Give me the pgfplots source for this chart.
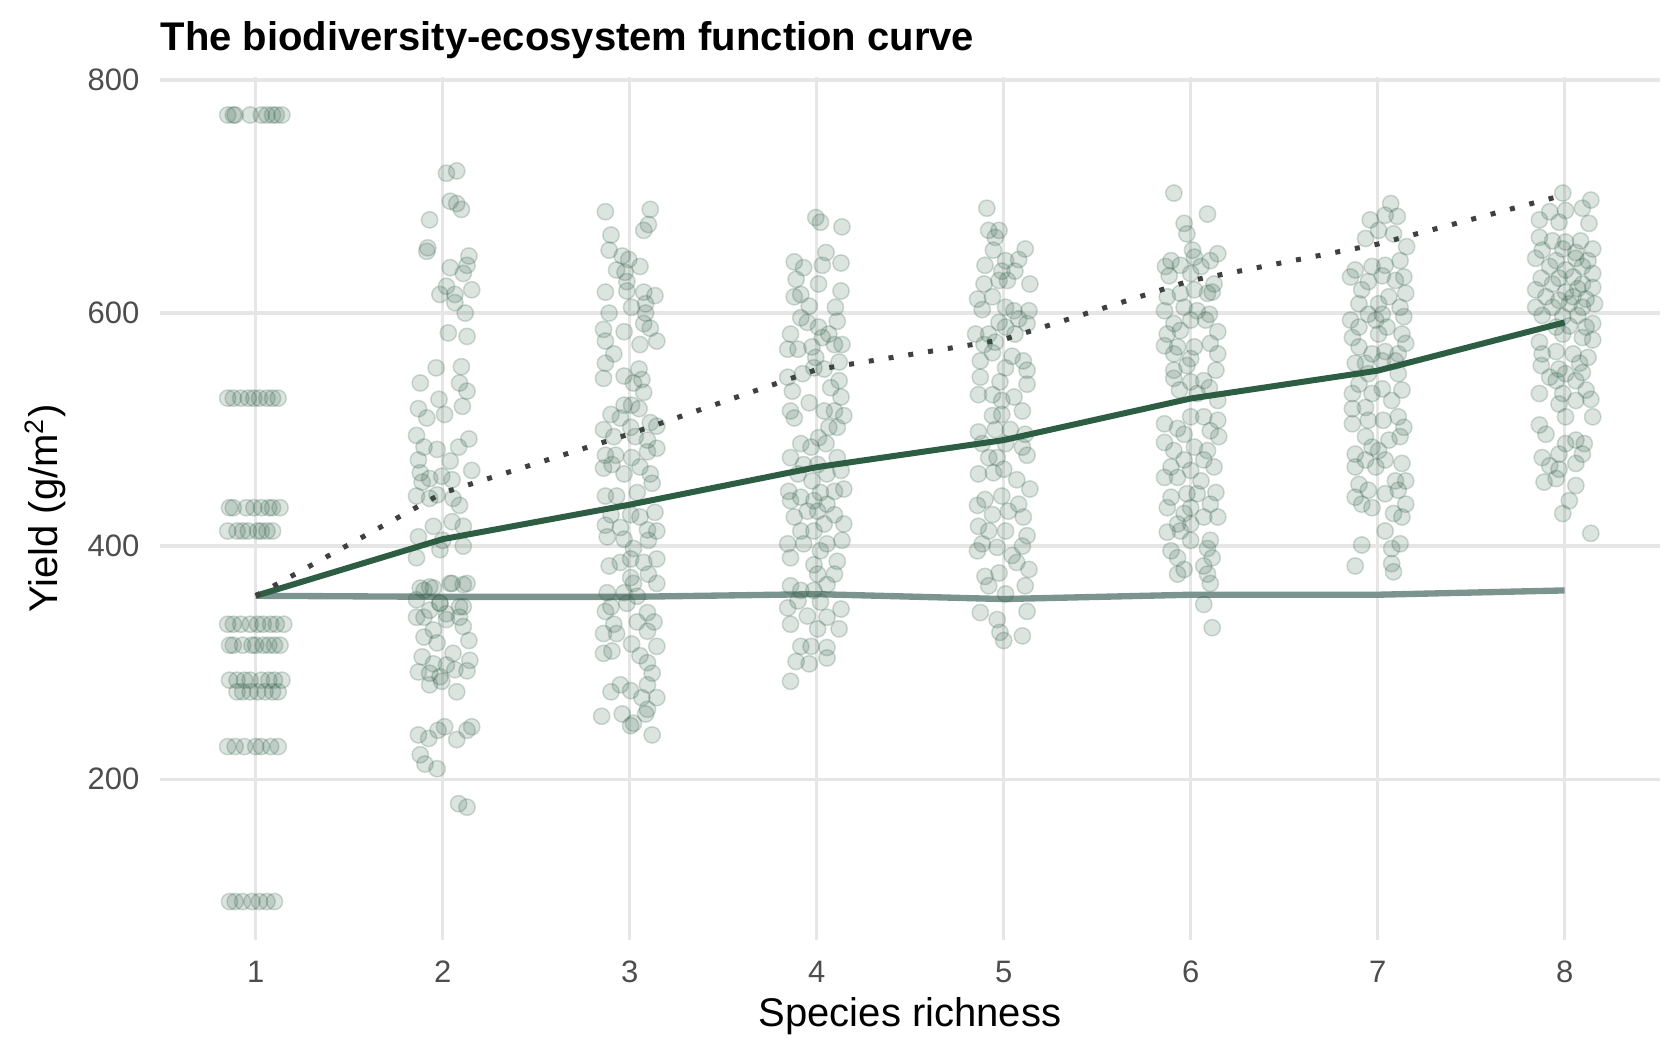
\documentclass[border=0pt]{standalone}
\usepackage{fontspec}
\setmainfont{Liberation Sans}
\usepackage{pgfplots}
\pgfplotsset{compat=1.18}
\definecolor{ptcol}{HTML}{2F5E46}
\definecolor{meancol}{HTML}{2D5E44}
\definecolor{graycol}{HTML}{7C948E}
\definecolor{dotcol}{HTML}{404040}
\definecolor{gridcol}{HTML}{E6E6E6}
\definecolor{tickcol}{HTML}{4D4D4D}
\begin{document}
\begin{tikzpicture}
\useasboundingbox (-48pt,-34.8pt) rectangle (456pt,282pt);
\begin{axis}[
  name=ax, at={(0pt,0pt)}, anchor=south west,
  scale only axis, width=450pt, height=258.9pt,
  xmin=0.488, xmax=8.51, ymin=62, ymax=802.6,
  axis line style={draw=none},
  major tick length=0pt,
  xmajorgrids, ymajorgrids,
  grid style={draw=gridcol, line width=1pt},
  xtick={1,2,3,4,5,6,7,8},
  ytick={200,400,600,800},
  /pgf/number format/assume math mode=true,
  tick label style={font=\fontsize{9.3}{11}\selectfont, text=tickcol},
  yticklabel style={anchor=east, inner sep=0pt, xshift=-6pt},
  xticklabel style={anchor=north, inner sep=0pt, yshift=-6.2pt},
  clip=false,
]
% jittered observations
\addplot[only marks, mark=*, mark size=2.45pt,
  mark options={draw=ptcol, fill=ptcol, fill opacity=0.17, draw opacity=0.22, line width=0.45pt}]
coordinates {
% richness 1 (monocultures)
(0.85,770)(0.88,770)(0.89,770)(0.97,770)(1.03,770)(1.06,770)(1.09,770)(1.11,770)(1.14,770)
(0.85,527)(0.88,527)(0.92,527)(0.96,527)(0.99,527)(1.02,527)(1.06,527)(1.09,527)(1.12,527)
(0.86,433)(0.88,433)(0.95,433)(0.99,433)(1.03,433)(1.07,433)(1.09,433)(1.13,433)
(0.85,413)(0.90,413)(0.93,413)(0.96,413)(1.01,413)(1.03,413)(1.06,413)(1.09,413)
(0.85,333)(0.88,333)(0.92,333)(0.97,333)(1.01,333)(1.04,333)(1.08,333)(1.11,333)(1.15,333)
(0.86,315)(0.88,315)(0.93,315)(0.98,315)(1.00,315)(1.04,315)(1.07,315)(1.10,315)(1.13,315)
(0.86,285)(0.90,285)(0.94,285)(0.97,285)(1.03,285)(1.07,285)(1.10,285)(1.14,285)
(0.90,275)(0.93,275)(0.97,275)(1.01,275)(1.05,275)(1.09,275)(1.12,275)
(0.85,228)(0.89,228)(0.94,228)(1.00,228)(1.03,228)(1.08,228)(1.12,228)
(0.86,95)(0.89,95)(0.93,95)(0.98,95)(1.02,95)(1.06,95)(1.10,95)
% richness 2
(2.02,720)(2.075,722)(2.04,696)(2.075,694)(2.10,689)(1.93,680)(1.92,656)(1.915,653)(2.14,649)(2.13,641)
(2.04,639)(2.11,634)(2.02,623)(1.985,616)(2.065,616)(2.155,620)(2.065,609)(2.12,600)(2.03,583)(2.13,580)
(1.965,553)(1.88,540)(2.10,554)(2.09,540)(2.13,533)(1.98,526)(2.105,520)(2.01,513)(1.87,518)(1.915,510)
(1.86,495)(1.90,485)(2.14,492)(2.085,485)(1.87,474)(1.97,483)(2.04,473)(2.155,465)(1.88,463)(1.93,458)
(1.995,460)(2.05,457)(1.89,455)(1.97,444)(1.86,443)(1.93,441)(2.055,441)(2.09,435)(1.95,417)(2.11,417)
(2.05,421)(1.87,408)(2.00,405)(2.11,400)(1.86,390)(1.985,397)(1.93,365)(2.05,368)(2.13,368)(1.88,364)
(1.985,351)(2.09,348)(1.90,339)(2.02,337)(1.95,328)(2.11,331)
(1.86,339)(1.93,345)(2.02,342)(2.09,339)(1.90,322)(1.97,317)(2.055,308)(2.14,319)(1.89,305)(1.95,299)
(2.02,298)(2.145,302)(1.87,292)(1.93,291)(1.985,288)(2.065,294)(2.13,293)(1.93,281)(1.995,284)(2.075,275)
(1.87,238)(1.925,235)(1.975,242)(2.01,245)(2.075,234)(2.13,242)(2.155,245)(1.88,221)(1.905,213)(1.97,209)
(2.085,179)(2.13,176)(1.90,362)(1.95,364)(2.04,368)(2.11,367)(1.86,354)(1.985,351)(2.11,348)
% richness 3
(2.87,687)(3.11,689)(2.90,667)(3.075,671)(3.10,676)(2.89,654)(2.96,649)(2.995,646)(2.93,637)(2.975,635)
(3.055,640)(2.985,627)(2.985,619)(2.87,618)(3.075,618)(3.135,615)(2.89,600)(3.01,605)(3.085,608)(3.085,600)
(3.075,591)(2.86,586)(2.97,584)(3.11,587)(2.87,576)(3.055,573)(3.145,576)(2.915,565)(2.87,557)(2.86,544)
(2.97,546)(3.05,552)(3.02,540)(3.065,543)(3.075,532)(2.97,521)(3.01,521)(2.90,513)(3.05,518)(2.95,510)
(2.86,500)(3.005,502)(3.11,506)(3.145,503)(2.915,494)(3.03,494)(3.095,491)(2.87,478)(2.925,478)(3.01,476)
(3.095,481)(3.145,484)(2.86,467)(2.905,470)(2.97,462)(3.055,468)(3.11,462)(2.87,443)(2.93,443)(3.04,446)
(3.12,454)(2.90,427)(3.005,427)(3.055,425)(3.135,429)(2.87,418)(2.95,416)(3.095,414)(3.145,413)(2.88,408)
(2.97,406)(3.02,398)(3.10,405)(2.89,383)(2.95,386)(3.005,389)(3.075,386)(3.145,389)(3.005,373)(3.10,376)
(3.02,368)(3.145,368)(2.88,360)(2.97,360)(3.04,357)(2.90,348)(2.985,351)(3.095,343)(2.87,344)(2.915,333)
(3.04,335)(3.13,335)(2.86,325)(2.93,325)(3.095,327)(3.01,316)(3.145,314)(2.905,310)(2.86,308)(3.055,306)
(3.095,300)(3.12,291)(2.90,275)(2.95,281)(3.005,276)(3.095,281)(3.065,270)(3.145,270)(2.85,254)(2.96,256)
(3.095,260)(3.085,256)(3.005,246)(3.02,248)(3.12,238)
% richness 4
(3.995,682)(4.02,678)(4.135,674)(3.88,644)(3.93,639)(4.05,652)(4.03,641)(4.13,643)(3.89,629)(4.01,625)
(4.13,619)(3.88,614)(3.915,616)(3.96,606)(4.10,605)(4.11,593)(3.915,596)(3.95,592)(4.01,588)(3.86,582)
(4.065,582)(4.135,573)(3.845,569)(3.90,569)(3.975,571)(4.03,579)(4.095,573)(3.995,562)(3.985,553)(4.12,558)
(3.845,545)(3.925,548)(4.04,552)(3.87,533)(4.12,542)(4.075,536)(4.13,528)(3.96,523)(3.86,516)(3.88,510)
(4.04,516)(4.095,516)(4.145,512)(4.11,502)(4.065,502)(4.01,493)(3.915,488)(3.97,485)(4.05,488)(3.86,476)
(4.11,476)(3.93,470)(4.005,470)(3.90,462)(4.055,462)(4.13,465)(3.975,456)(3.85,447)(4.095,447)(4.02,446)
(3.915,442)(3.985,439)(4.145,449)(3.86,439)(4.055,436)(3.95,430)(4.005,430)(4.095,427)(3.88,425)(4.04,419)
(4.145,419)(3.915,413)(3.985,413)(3.845,402)(3.93,402)(4.055,402)(4.135,405)(4.02,396)(3.86,390)(4.11,387)
(3.985,384)(4.005,376)(4.095,376)(4.055,367)(3.86,366)(3.915,362)(3.985,362)(3.845,347)(3.90,353)(4.02,352)
(4.13,346)(3.95,340)(4.055,339)(3.86,333)(4.12,329)(4.005,329)(3.915,314)(3.97,314)(4.055,313)(3.89,301)
(3.96,299)(4.055,304)(3.86,284)
% richness 5
(4.91,690)(4.92,671)(4.975,671)(4.955,665)(4.945,654)(4.90,641)(5.01,645)(5.08,646)(5.115,655)(4.99,636)
(5.06,636)(4.895,625)(4.975,628)(5.02,628)(5.14,625)(4.86,612)(4.94,614)(4.885,603)(5.01,605)(5.055,602)
(5.135,602)(4.975,592)(5.08,595)(5.125,591)(4.85,582)(4.92,582)(5.01,588)(4.895,573)(4.955,575)(5.06,582)
(4.875,559)(4.94,566)(5.045,563)(5.105,559)(5.01,553)(5.125,551)(4.875,545)(4.98,541)(5.125,539)(4.865,530)
(4.94,530)(5.055,528)(4.99,525)(5.10,516)(4.94,512)(4.99,513)(4.865,498)(4.955,500)(5.035,500)(5.115,496)
(4.885,488)(5.01,488)(5.10,485)(4.92,476)(4.965,476)(5.125,478)(4.865,462)(4.945,463)(5.00,466)(5.07,457)
(5.14,449)(4.90,440)(4.99,443)(5.08,436)(4.86,435)(4.94,427)(5.025,430)(5.105,425)(4.865,417)(4.92,413)
(5.01,413)(5.125,409)(4.885,402)(4.965,399)(5.045,392)(5.10,400)(4.86,396)(5.07,386)(4.90,374)(4.975,377)
(5.135,380)(4.92,366)(5.01,359)(5.115,366)(4.875,343)(4.965,337)(5.125,344)(4.98,326)(5.10,323)(5.00,319)
% richness 6
(5.91,703)(6.09,685)(5.965,677)(5.98,668)(6.01,654)(5.895,645)(6.02,648)(6.145,651)(5.865,640)(5.945,641)
(6.055,640)(6.105,645)(5.885,632)(6.00,634)(6.125,625)(6.02,620)(5.875,614)(5.945,617)(6.09,617)(6.115,618)
(5.86,602)(5.965,605)(6.035,602)(6.10,599)(5.91,591)(6.00,594)(6.08,594)(5.875,582)(5.945,585)(6.145,584)
(5.86,572)(5.93,571)(6.02,571)(6.105,574)(6.00,561)(5.91,565)(6.145,565)(5.91,551)(6.135,551)(5.98,555)
(5.91,544)(6.00,541)(6.07,542)(6.10,536)(5.94,534)(6.035,531)(6.145,525)(5.86,505)(5.93,501)(6.00,511)
(6.07,511)(6.145,508)(5.965,496)(6.105,499)(5.86,489)(6.15,494)(5.91,482)(6.02,485)(6.09,482)(5.965,474)
(6.07,474)(5.895,468)(6.00,465)(5.86,459)(5.93,459)(6.125,468)(6.055,456)(5.98,445)(5.895,442)(6.135,446)
(6.035,445)(5.875,433)(6.00,433)(6.105,436)(5.965,428)(6.07,425)(5.93,419)(6.145,425)(6.00,419)(5.875,412)
(5.945,413)(6.105,405)(6.00,405)(5.895,396)(6.09,398)(5.93,390)(6.07,383)(6.115,390)(5.93,376)(5.965,380)
(6.09,376)(6.105,368)(6.07,350)(6.115,330)
% richness 7
(7.07,694)(6.96,680)(7.04,684)(7.105,683)(7.005,671)(6.935,664)(7.085,668)(7.155,657)(6.88,637)(6.97,640)
(7.04,641)(7.12,645)(6.855,631)(6.95,627)(7.025,632)(7.14,631)(6.915,620)(7.095,628)(7.15,617)(6.90,608)
(7.005,608)(7.06,614)(6.95,599)(7.025,599)(7.12,605)(6.855,594)(6.99,594)(7.14,597)(6.90,588)(7.05,588)
(6.865,579)(7.005,582)(7.13,582)(6.90,571)(6.97,565)(7.04,567)(7.11,565)(7.15,574)(6.88,557)(6.935,557)
(7.025,559)(7.095,559)(6.95,548)(7.11,548)(6.90,539)(7.025,535)(7.13,534)(6.865,531)(6.97,531)(7.075,525)
(6.935,519)(6.865,518)(6.95,508)(7.03,508)(7.11,511)(6.865,505)(7.14,502)(6.935,494)(7.06,491)(6.97,485)
(7.12,494)(6.88,479)(7.005,482)(6.935,474)(7.04,474)(6.88,468)(6.99,468)(7.13,471)(6.90,453)(6.95,448)
(7.095,456)(7.15,456)(6.88,442)(7.04,445)(7.11,448)(6.915,436)(6.97,433)(7.15,436)(7.085,428)(7.13,425)
(7.04,413)(6.915,401)(7.075,398)(7.12,402)(6.88,383)(7.075,385)(7.085,378)
% richness 8
(7.99,703)(8.14,697)(7.92,687)(8.095,690)(8.005,688)(7.865,680)(7.97,678)(8.13,677)(7.865,665)(7.935,662)
(8.005,661)(8.085,662)(8.15,655)(7.88,654)(7.99,655)(8.06,652)(7.845,647)(7.955,645)(8.06,647)(8.125,645)
(7.92,640)(8.005,637)(8.095,640)(7.875,630)(7.97,630)(8.045,631)(8.15,634)(7.935,625)(8.095,625)(7.845,620)
(8.005,618)(8.07,621)(8.15,622)(7.90,614)(7.97,611)(8.045,614)(8.115,612)(7.845,605)(7.935,605)(8.025,608)
(8.095,605)(8.16,608)(7.88,598)(7.99,597)(8.07,598)(8.15,591)(7.955,588)(8.025,589)(8.115,588)(7.865,575)
(7.99,582)(8.095,579)(8.15,577)(7.88,565)(7.955,567)(8.045,565)(8.125,562)(7.875,555)(7.97,552)(8.08,557)
(7.92,545)(8.005,548)(8.095,549)(7.955,542)(8.06,542)(7.865,531)(7.99,531)(8.115,534)(7.97,522)(8.06,525)
(8.14,526)(8.005,511)(8.15,511)(7.865,504)(7.90,496)(8.005,488)(8.06,491)(8.105,488)(7.97,479)(7.88,476)
(8.06,471)(7.92,469)(7.97,466)(8.095,479)(7.89,455)(7.955,458)(8.06,452)(8.025,439)(7.99,428)(8.14,411)
};
% lower (flat) curve
\addplot[graycol, line width=1.9pt] coordinates {
(1,357.4)(2,356.5)(3,356.5)(4,358.8)(5,354.6)(6,358.3)(7,358.3)(8,362)};
% mean curve
\addplot[meancol, line width=1.8pt] coordinates {
(1,357.4)(2,406)(3,435.6)(4,467.8)(5,491)(6,526.7)(7,550.6)(8,592)};
% upper (dotted) curve
\addplot[dotcol, line width=1.5pt, dash pattern=on 1.5pt off 4.5pt] coordinates {
(1,357.4)(2,445.7)(3,496.3)(4,551.5)(5,577.3)(6,627.9)(7,659.2)(8,701.5)};
\end{axis}
\node[anchor=base west, inner sep=0pt, font=\bfseries\fontsize{12}{14}\selectfont] at ([yshift=8.1pt]ax.north west) {The biodiversity-ecosystem function curve};
\node[anchor=base, inner sep=0pt, font=\fontsize{12}{14}\selectfont] at ([yshift=-25.8pt]ax.south) {Species richness};
\node[anchor=base, inner sep=0pt, rotate=90, font=\fontsize{12}{14}\selectfont] at ([xshift=-30.6pt]ax.west) {Yield (g/m\textsuperscript{2})};
\end{tikzpicture}
\end{document}
